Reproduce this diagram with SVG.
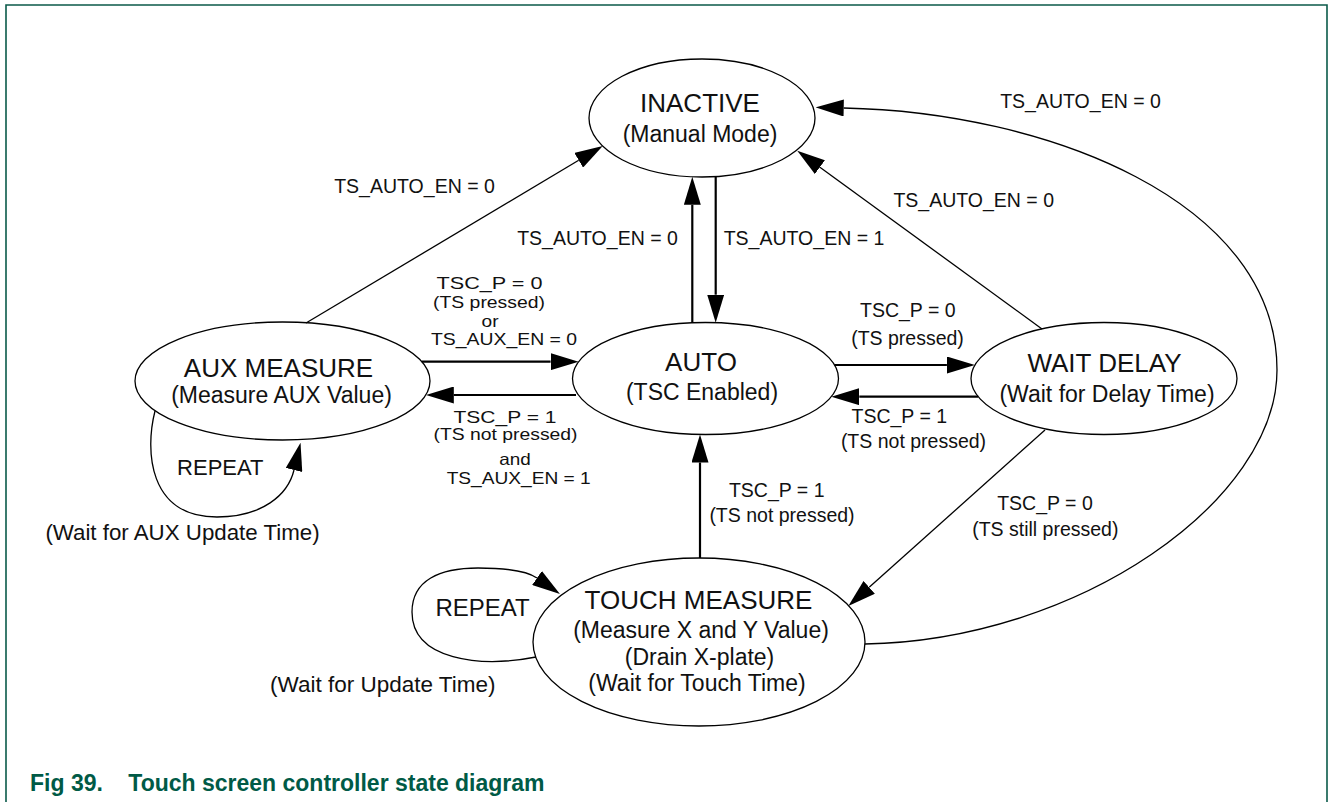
<svg xmlns="http://www.w3.org/2000/svg" width="1328" height="802" viewBox="0 0 1328 802">
<style>
.frame{fill:none;stroke:#0b5a4a;stroke-width:1.6}
.node ellipse{fill:#fff;stroke:#000;stroke-width:1.3}
.t{font-family:"Liberation Sans",Arial,Helvetica,sans-serif;fill:#111;text-anchor:middle}
.title{font-size:26px}
.sub{font-size:23px}
.lbl{font-size:19.5px}
.sm{font-size:16.5px}
.thick{fill:none;stroke:#000;stroke-width:2.2}
.thin{fill:none;stroke:#000;stroke-width:1.3}
.cap{font-family:"Liberation Sans",Arial,Helvetica,sans-serif;font-weight:bold;font-size:23px;fill:#005a46}
</style>
<defs>
<marker id="ah" viewBox="0 0 28 17" refX="0" refY="8.5" markerWidth="28" markerHeight="17" markerUnits="userSpaceOnUse" orient="auto">
<path d="M0,0 L28,8.5 L0,17 z" fill="#000"/>
</marker>
</defs>
<rect width="1328" height="802" fill="#fff"/>
<path class="frame" d="M6,802 V5 H1327 V802"/>

<g id="inactive" class="node">
<ellipse cx="702" cy="118" rx="113" ry="59"/>
<text class="t title" x="700" y="112">INACTIVE</text>
<text class="t sub" x="700" y="141.7">(Manual Mode)</text>
</g>
<g id="auto" class="node">
<ellipse cx="705.5" cy="378.5" rx="133" ry="56"/>
<text class="t title" x="701" y="370.7">AUTO</text>
<text class="t sub" x="702" y="400">(TSC Enabled)</text>
</g>
<g id="aux-measure" class="node">
<ellipse cx="282.5" cy="381" rx="147.5" ry="59"/>
<text class="t title" x="278.5" y="376.7">AUX MEASURE</text>
<text class="t sub" x="281.5" y="403.3">(Measure AUX Value)</text>
</g>
<g id="wait-delay" class="node">
<ellipse cx="1104" cy="378.5" rx="133" ry="56"/>
<text class="t title" x="1104.5" y="371.7">WAIT DELAY</text>
<text class="t sub" x="1107" y="401.7">(Wait for Delay Time)</text>
</g>
<g id="touch-measure" class="node">
<ellipse cx="699" cy="642" rx="166" ry="84"/>
<text class="t title" x="698.5" y="609.3">TOUCH MEASURE</text>
<text class="t sub" x="701" y="638.3">(Measure X and Y Value)</text>
<text class="t sub" x="699.5" y="665">(Drain X-plate)</text>
<text class="t sub" x="697" y="690.7">(Wait for Touch Time)</text>
</g>

<g id="connectors">
<path class="thin" d="M306,323 L578.7,160.3" marker-end="url(#ah)"/>
<path class="thick" d="M692.3,322.8 V204.8" marker-end="url(#ah)"/>
<path class="thick" d="M715.7,176.6 V294.7" marker-end="url(#ah)"/>
<path class="thick" d="M421.9,361.7 H550.6" marker-end="url(#ah)"/>
<path class="thick" d="M576,395 H453.8" marker-end="url(#ah)"/>
<path class="thick" d="M834.6,365 H946.9" marker-end="url(#ah)"/>
<path class="thick" d="M978.2,396.7 H859.3" marker-end="url(#ah)"/>
<path class="thick" d="M700,558 V462.5" marker-end="url(#ah)"/>
<path class="thin" d="M1042,329 L819.9,167.2" marker-end="url(#ah)"/>
<path class="thin" d="M1045,430 L869.2,587.3" marker-end="url(#ah)"/>
<path class="thin" d="M865,644 C1080,640 1277,500 1277,370 C1277,200 1045,112 843.7,108" marker-end="url(#ah)"/>
<path class="thin" d="M155,411 C145,450 148,517 217,517 C262,517 288,495 294,470" marker-end="url(#ah)"/>
<path class="thin" d="M536,657 C480,668 412,660 412,612 C412,580 440,568 478,568 C505,568 527,571 537,578" marker-end="url(#ah)"/>

<text class="t lbl" x="414.5" y="192.7">TS_AUTO_EN = 0</text>
<text class="t lbl" x="597.5" y="245">TS_AUTO_EN = 0</text>
<text class="t lbl" x="804" y="245">TS_AUTO_EN = 1</text>
<text class="t lbl" x="973.7" y="206.7">TS_AUTO_EN = 0</text>
<text class="t lbl" x="1080.5" y="108.3">TS_AUTO_EN = 0</text>
<text class="t sm" x="489.5" y="289" textLength="106" lengthAdjust="spacingAndGlyphs">TSC_P = 0</text>
<text class="t sm" x="489" y="307.7" textLength="112" lengthAdjust="spacingAndGlyphs">(TS pressed)</text>
<text class="t sm" x="490" y="326.7" textLength="17" lengthAdjust="spacingAndGlyphs">or</text>
<text class="t sm" x="504" y="345" textLength="146" lengthAdjust="spacingAndGlyphs">TS_AUX_EN = 0</text>
<text class="t sm" x="505" y="422.5" textLength="103" lengthAdjust="spacingAndGlyphs">TSC_P = 1</text>
<text class="t sm" x="505.5" y="440" textLength="144" lengthAdjust="spacingAndGlyphs">(TS not pressed)</text>
<text class="t sm" x="515" y="464.5" textLength="31.5" lengthAdjust="spacingAndGlyphs">and</text>
<text class="t sm" x="518.7" y="483.5" textLength="144" lengthAdjust="spacingAndGlyphs">TS_AUX_EN = 1</text>
<text class="t lbl" x="907.8" y="317.3">TSC_P = 0</text>
<text class="t lbl" x="907.5" y="345">(TS pressed)</text>
<text class="t lbl" x="899.3" y="423.3">TSC_P = 1</text>
<text class="t lbl" x="913.5" y="447.5">(TS not pressed)</text>
<text class="t lbl" x="776.7" y="497.3">TSC_P = 1</text>
<text class="t lbl" x="782" y="521.7">(TS not pressed)</text>
<text class="t lbl" x="1045" y="510">TSC_P = 0</text>
<text class="t lbl" x="1045.3" y="536">(TS still pressed)</text>
<text class="t" style="font-size:22px" x="220.3" y="475">REPEAT</text>
<text class="t" style="font-size:22.3px" x="182.5" y="540">(Wait for AUX Update Time)</text>
<text class="t" style="font-size:24px" x="482.5" y="616">REPEAT</text>
<text class="t" style="font-size:22.5px" x="382.8" y="692">(Wait for Update Time)</text>
</g>

<text class="cap" x="30" y="790.5">Fig 39.</text>
<text class="cap" x="128.3" y="790.5">Touch screen controller state diagram</text>
</svg>
